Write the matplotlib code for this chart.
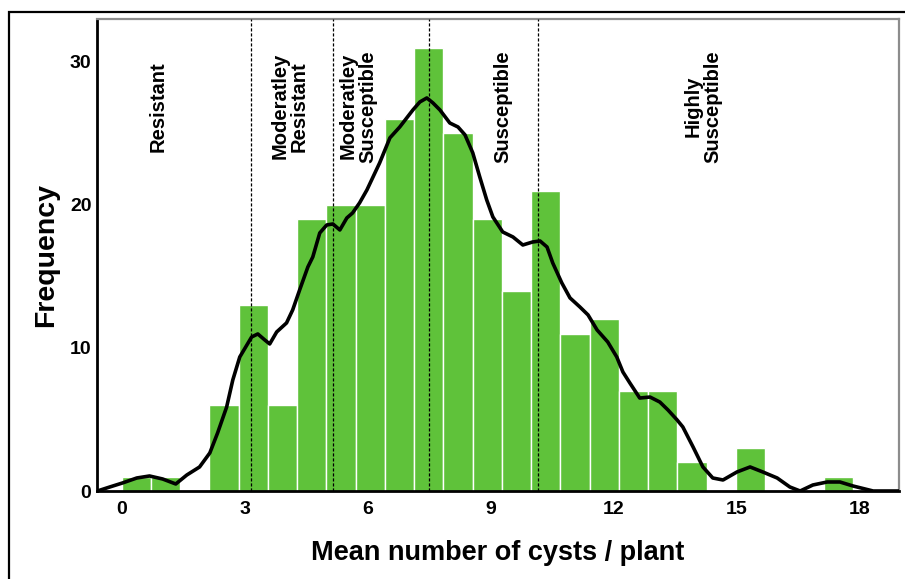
import numpy as np
import matplotlib
matplotlib.use("Agg")
import matplotlib.pyplot as plt
from matplotlib.patches import Rectangle

plt.rcParams['font.family'] = ['Liberation Sans', 'DejaVu Sans']

# ---- data ----
bin_start = 0.0
bin_width = 0.713
counts = [1, 1, 0, 6, 13, 6, 19, 20, 20, 26, 31, 25, 19, 14, 21, 11, 12, 7, 7, 2, 0, 3, 0, 0, 1]

curve_x = [-0.59, -0.29, 0.02, 0.37, 0.68, 1.00, 1.32, 1.59, 1.90, 2.15, 2.34, 2.56, 2.71, 2.88,
           3.17, 3.32, 3.49, 3.61, 3.78, 4.02, 4.17, 4.34, 4.54, 4.66, 4.83, 5.00, 5.15, 5.32,
           5.49, 5.63, 5.80, 5.98, 6.29, 6.54, 6.78, 7.10, 7.27, 7.44, 7.59, 7.76, 8.00, 8.20,
           8.37, 8.56, 8.73, 8.90, 9.05, 9.29, 9.54, 9.78, 10.02, 10.20, 10.37, 10.51, 10.73,
           10.93, 11.17, 11.37, 11.59, 11.85, 12.07, 12.22, 12.39, 12.63, 12.88, 13.12, 13.32,
           13.54, 13.68, 13.93, 14.17, 14.41, 14.66, 15.00, 15.32, 15.63, 15.98, 16.29, 16.54,
           16.85, 17.20, 17.51, 17.83, 18.32, 18.95]
curve_y = [0.00, 0.28, 0.56, 0.91, 1.05, 0.84, 0.49, 1.12, 1.68, 2.66, 4.06, 5.87, 7.76, 9.37,
           10.77, 10.98, 10.56, 10.28, 11.12, 11.75, 12.66, 14.06, 15.66, 16.36, 18.04, 18.60,
           18.67, 18.25, 19.09, 19.44, 20.14, 21.05, 22.94, 24.69, 25.45, 26.64, 27.20, 27.48,
           27.13, 26.64, 25.73, 25.45, 24.90, 23.64, 21.96, 20.35, 19.16, 18.11, 17.76, 17.20,
           17.41, 17.48, 17.06, 15.94, 14.55, 13.50, 12.87, 12.31, 11.26, 10.42, 9.37, 8.32,
           7.55, 6.50, 6.57, 6.22, 5.66, 4.97, 4.48, 3.08, 1.68, 0.91, 0.77, 1.33, 1.68, 1.33,
           0.91, 0.28, 0.00, 0.42, 0.63, 0.63, 0.35, 0.00, 0.00]

thresholds = [3.15, 5.15, 7.49, 10.15]
class_labels = ["Resistant", "Moderatley\nResistant", "Moderatley\nSusceptible",
                "Susceptible", "Highly\nSusceptible"]
class_label_x = [0.88, 4.10, 5.76, 9.29, 14.17]

x_ticks = [0, 3, 6, 9, 12, 15, 18]
y_ticks = [0, 10, 20, 30]

# ---- figure ----
fig = plt.figure(figsize=(9.05, 5.79), dpi=100)
ax = fig.add_axes([97/905, 1 - 491/579, (899-97)/905, (491-19)/579])

# outer frame
fig.patches.append(Rectangle((9/905, -0.2), 1.2, 1.2 - 12/579, transform=fig.transFigure,
                             fill=False, edgecolor='black', linewidth=1.6, zorder=0))

edges = bin_start + bin_width * np.arange(len(counts))
ax.bar(edges, counts, width=bin_width, align='edge', color='#5fc23a',
       edgecolor='white', linewidth=1.0, zorder=2)

for t in thresholds:
    ax.axvline(t, color='black', linestyle=(0, (2.5, 1.5)), linewidth=0.9, zorder=3)

ax.plot(curve_x, curve_y, color='black', linewidth=2.6, zorder=4,
        solid_capstyle='round', solid_joinstyle='round')

for lx, lab in zip(class_label_x, class_labels):
    ax.text(lx, 26.9, lab, rotation=90, ha='center', va='center', multialignment='center',
            fontsize=14.5, fontweight='bold', linespacing=1.0, zorder=5)

ax.set_xlim(-0.6, 18.95)
ax.set_ylim(0, 33.0)
ax.set_xticks(x_ticks)
ax.set_yticks(y_ticks)
ax.tick_params(axis='x', length=0, labelsize=14, pad=7)
ax.tick_params(axis='y', length=0, labelsize=14, pad=4)
for lab in ax.get_xticklabels() + ax.get_yticklabels():
    lab.set_fontweight('bold')

ax.spines['left'].set_linewidth(2)
ax.spines['bottom'].set_linewidth(2)
ax.spines['top'].set_color('#8c8c8c')
ax.spines['right'].set_color('#8c8c8c')
ax.spines['top'].set_linewidth(1.6)
ax.spines['right'].set_linewidth(1.6)

ax.set_xlabel("Mean number of cysts / plant", fontsize=19.5, fontweight='bold', labelpad=16)
ax.set_ylabel("Frequency", fontsize=20.5, fontweight='bold', labelpad=8)

fig.savefig("out.png", dpi=100)
